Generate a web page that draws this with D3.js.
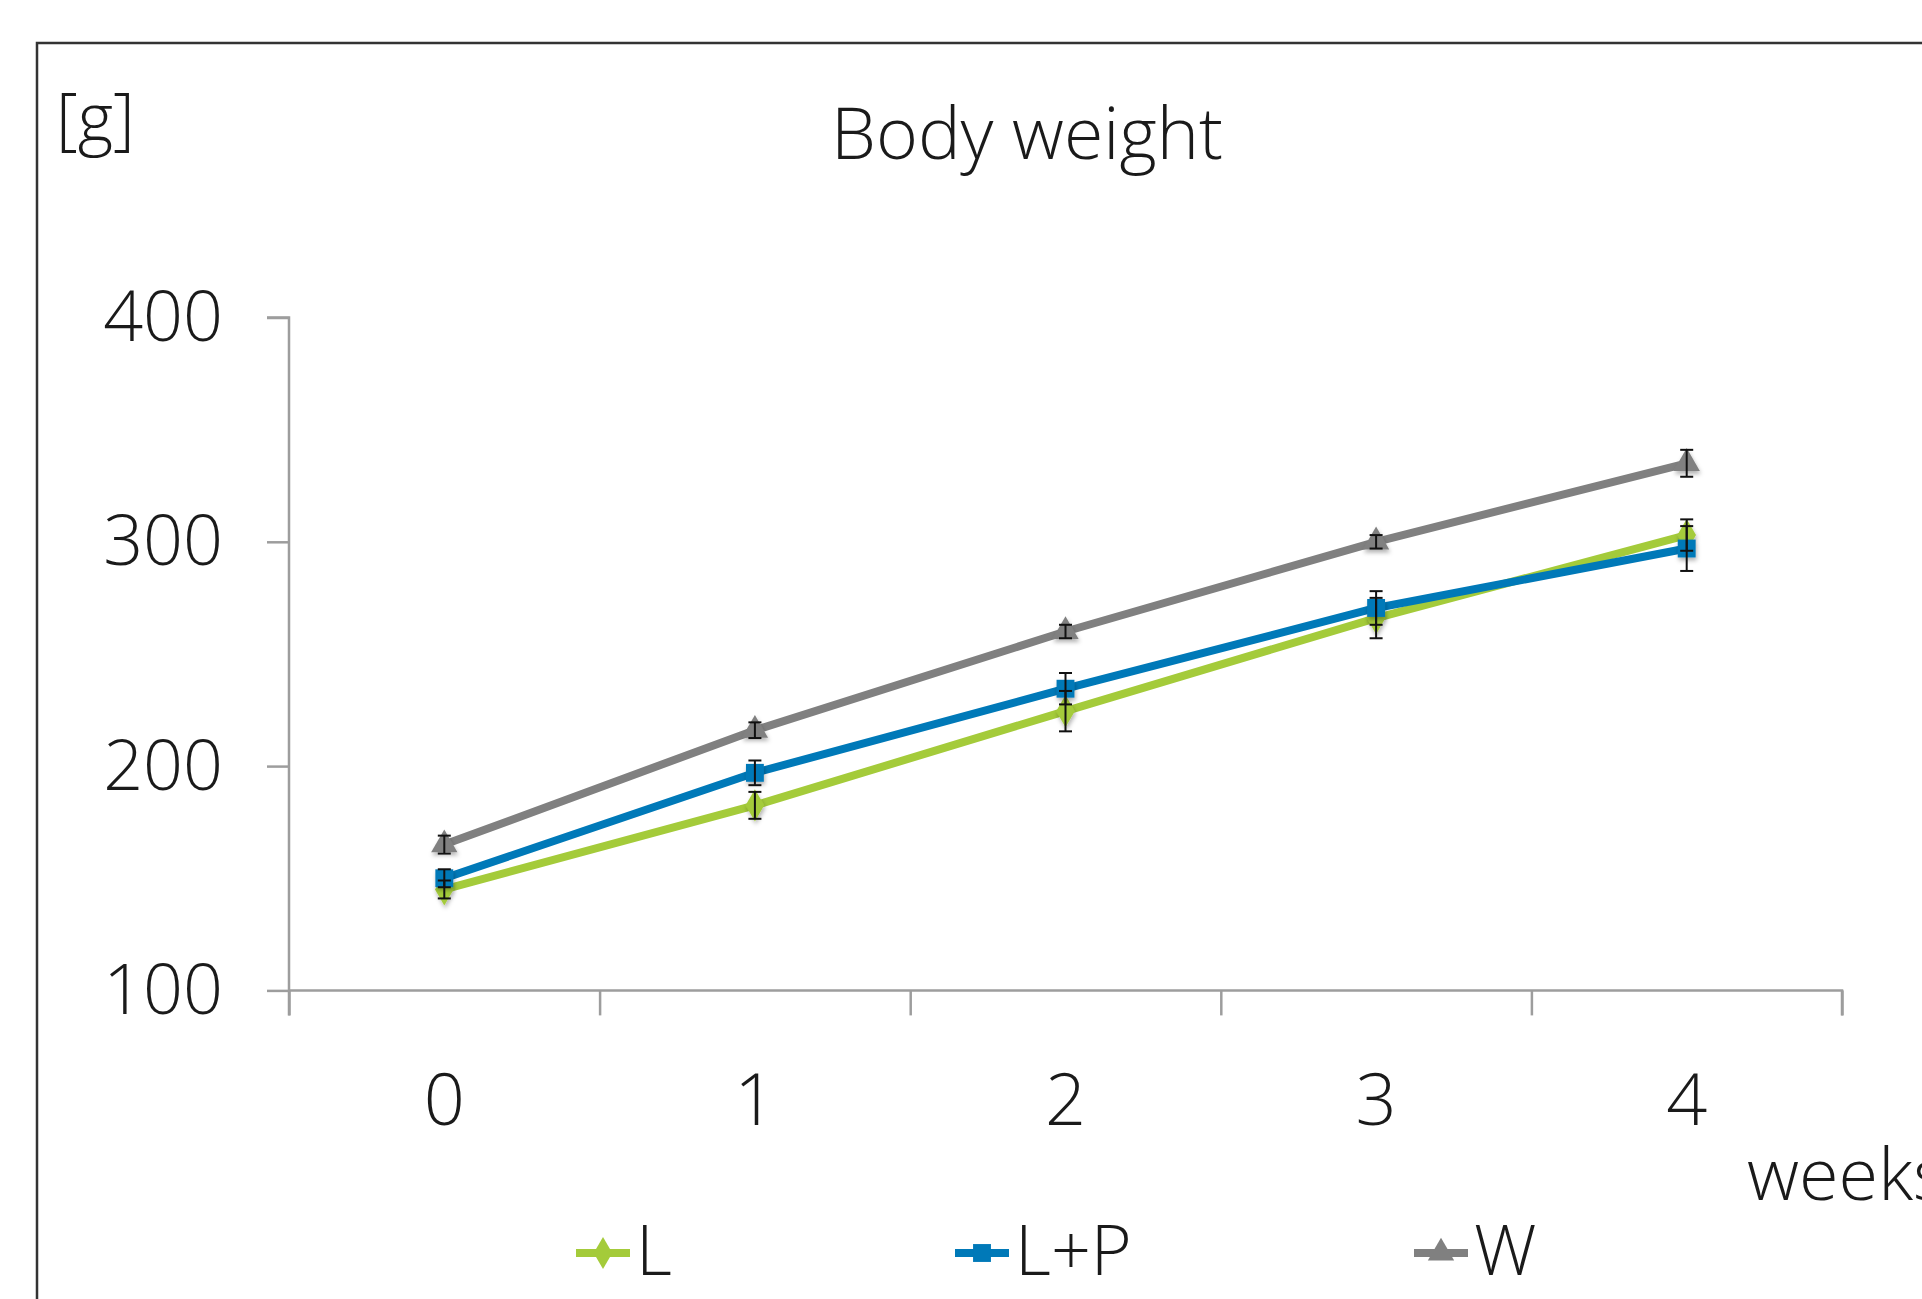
<!DOCTYPE html>
<html>
<head>
<meta charset="utf-8">
<script src="https://cdn.jsdelivr.net/npm/d3@7"></script>
<style>
  html, body { margin: 0; padding: 0; background: #fff; overflow: hidden; }
  text { font-family: "Open Sans", "Noto Sans", sans-serif; font-weight: 300; fill: #1a1a1a; }
</style>
</head>
<body>
<svg id="chart" width="1922" height="1299"></svg>
<script>
// ---- data ----
const categories = ["0", "1", "2", "3", "4"];
const yTicks = [100, 200, 300, 400];
const seriesNames = ["L", "L+P", "W"];
const seriesColors = ["#a4cb3a", "#0079b8", "#808080"];
const seriesShapes = ["diamond", "square", "triangle"];
const valuesL  = [145, 182.5, 224.5, 266, 303];
const errL     = [4, 6, 9, 9, 7];
const valuesLP = [150, 197, 234.5, 270.5, 297];
const errLP    = [4, 5.5, 7, 7.5, 10];
const valuesW  = [165, 216, 260, 300, 335];
const errW     = [4, 3.5, 3, 3, 6];
const titleText = "Body weight";
const yUnit = "[g]";
const xUnit = "weeks";

const series = [
  { name: seriesNames[0], color: seriesColors[0], shape: seriesShapes[0], values: valuesL,  err: errL },
  { name: seriesNames[1], color: seriesColors[1], shape: seriesShapes[1], values: valuesLP, err: errLP },
  { name: seriesNames[2], color: seriesColors[2], shape: seriesShapes[2], values: valuesW,  err: errW }
];

const svg = d3.select("#chart");
const defs = svg.append("defs");
const f = defs.append("filter").attr("id", "shadow").attr("x", "-50%").attr("y", "-50%").attr("width", "200%").attr("height", "200%");
f.append("feDropShadow").attr("dx", 1).attr("dy", 3).attr("stdDeviation", 2).attr("flood-color", "#000").attr("flood-opacity", 0.3);

// frame (extends beyond view on right and bottom)
svg.append("rect").attr("x", 37).attr("y", 43).attr("width", 2100).attr("height", 1600)
  .attr("fill", "none").attr("stroke", "#333").attr("stroke-width", 2.5);

// scales
const x = d3.scaleBand().domain(categories).range([289, 1842]).padding(0);
const y = d3.scaleLinear().domain([100, 400]).range([990.4, 317.5]);
const cx = d => x(d) + x.bandwidth() / 2;

const axisColor = "#9d9d9d";

// Y axis
const yAxis = svg.append("g").attr("transform", "translate(289,0)")
  .call(d3.axisLeft(y).tickValues(yTicks).tickSize(22).tickPadding(44).tickFormat(d3.format("d")));
yAxis.select(".domain").attr("stroke", axisColor).attr("stroke-width", 2.5).attr("d", `M-22,${y(400)}H0V${y(100) + 25}`);
yAxis.selectAll(".tick line").attr("stroke", axisColor).attr("stroke-width", 2.5);
yAxis.selectAll(".tick text").attr("font-size", 70).attr("font-family", "'Open Sans', sans-serif")
  .attr("font-weight", 300).attr("fill", "#1a1a1a").attr("dy", "0.33em");

// X axis (ticks at band boundaries)
const xAxisG = svg.append("g").attr("transform", `translate(0,${y(100)})`);
const xb = d3.scaleLinear().domain([0, categories.length]).range(x.range());
xAxisG.call(d3.axisBottom(xb).tickValues(d3.range(categories.length + 1)).tickSize(25).tickFormat(""));
xAxisG.select(".domain").attr("stroke", axisColor).attr("stroke-width", 2.5).attr("d", `M${x.range()[0]},0H${x.range()[1]}V25`);
xAxisG.selectAll(".tick line").attr("stroke", axisColor).attr("stroke-width", 2.5);

// x category labels
svg.append("g").selectAll("text").data(categories).join("text")
  .attr("x", d => cx(d)).attr("y", 1125).attr("text-anchor", "middle")
  .attr("font-size", 72).text(d => d);

// title & unit labels
svg.append("text").attr("x", 1027).attr("y", 159).attr("text-anchor", "middle")
  .attr("font-size", 72).attr("textLength", 392).attr("lengthAdjust", "spacingAndGlyphs").text(titleText);
svg.append("text").attr("x", 56).attr("y", 142).attr("font-size", 68).text(yUnit);
svg.append("text").attr("x", 1747).attr("y", 1200).attr("font-size", 72).text(xUnit);

// marker symbol generator
function symbolPath(shape, size) {
  const t = shape === "diamond" ? d3.symbolDiamond : shape === "square" ? d3.symbolSquare : d3.symbolTriangle;
  return d3.symbol().type(t).size(size)();
}
const markerSize = { diamond: 300, square: 320, triangle: 300 };

const line = d3.line().x((d, i) => cx(categories[i])).y(d => y(d));

// lines
series.forEach(s => {
  svg.append("path").datum(s.values).attr("d", line)
    .attr("fill", "none").attr("stroke", s.color).attr("stroke-width", 8)
    .attr("stroke-linejoin", "round");
});

// markers
series.forEach(s => {
  svg.append("g").attr("filter", "url(#shadow)").selectAll("path").data(s.values).join("path")
    .attr("transform", (d, i) => `translate(${cx(categories[i])},${y(d)})`)
    .attr("d", symbolPath(s.shape, markerSize[s.shape]))
    .attr("fill", s.color);
});

// error bars
series.forEach(s => {
  const g = svg.append("g").attr("stroke", "#111").attr("stroke-width", 2);
  s.values.forEach((v, i) => {
    const px = cx(categories[i]);
    const y1 = y(v + s.err[i]), y2 = y(v - s.err[i]);
    g.append("line").attr("x1", px).attr("x2", px).attr("y1", y1).attr("y2", y2);
    g.append("line").attr("x1", px - 6.5).attr("x2", px + 6.5).attr("y1", y1).attr("y2", y1);
    g.append("line").attr("x1", px - 6.5).attr("x2", px + 6.5).attr("y1", y2).attr("y2", y2);
  });
});

// legend
const legendX = [603, 982, 1441];
const legendY = 1253;
series.forEach((s, i) => {
  const g = svg.append("g").attr("transform", `translate(${legendX[i]},${legendY})`);
  g.append("line").attr("x1", -27).attr("x2", 27).attr("y1", 0).attr("y2", 0)
    .attr("stroke", s.color).attr("stroke-width", 8);
  g.append("path").attr("d", symbolPath(s.shape, markerSize[s.shape])).attr("fill", s.color);
  g.append("text").attr("x", 33).attr("y", 22).attr("font-size", 70).text(s.name);
});
</script>
</body>
</html>
